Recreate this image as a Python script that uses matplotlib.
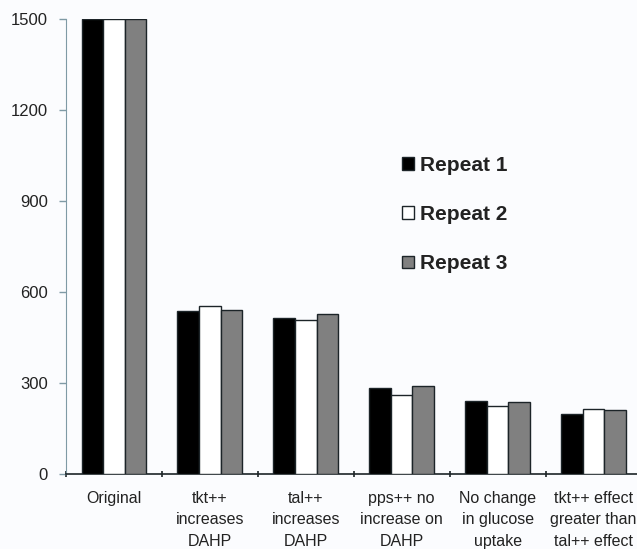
import numpy as np
import matplotlib.pyplot as plt

plt.rcParams['font.family'] = ['Liberation Sans', 'DejaVu Sans']

categories = ['Original', 'tkt++\nincreases\nDAHP', 'tal++\nincreases\nDAHP',
              'pps++ no\nincrease on\nDAHP', 'No change\nin glucose\nuptake',
              'tkt++ effect\ngreater than\ntal++ effect']
repeat1 = [1500, 537, 513, 283, 240, 198]
repeat2 = [1500, 554, 508, 261, 225, 215]
repeat3 = [1500, 541, 527, 290, 238, 210]
series_names = ['Repeat 1', 'Repeat 2', 'Repeat 3']
yticks = [0, 300, 600, 900, 1200, 1500]

fig = plt.figure(figsize=(6.37, 5.49), dpi=100, facecolor='#fbfcfe')
ax = fig.add_axes([0.1036, 0.1366, 0.9034, 0.8288])
ax.set_facecolor('#fbfcfe')

x = np.arange(len(categories))
w = 0.225
cols = ['#000000', '#ffffff', '#808080']
bars = []
for k, (vals, c) in enumerate(zip([repeat1, repeat2, repeat3], cols)):
    b = ax.bar(x + (k - 1) * w, vals, w, color=c, edgecolor='#1c2428', linewidth=1.0,
               label=series_names[k], zorder=3)
    bars.append(b)

ax.set_xlim(-0.5, len(categories) - 0.5)
ax.set_ylim(0, 1500)
ax.set_yticks(yticks)
ax.set_yticklabels([str(t) for t in yticks], fontsize=12, color='#222222')
ax.set_xticks(np.arange(len(categories) + 1) - 0.5)
ax.set_xticklabels([])
ax.set_xticks(x, minor=True)
ax.set_xticklabels(categories, minor=True, fontsize=11.5, color='#222222', linespacing=1.55)
ax.tick_params(axis='x', which='minor', length=0, pad=12)
ax.tick_params(axis='x', which='major', length=5, width=1.2, color='#1c2428', direction='inout')
ax.tick_params(axis='y', length=5, width=1, color='#7f9aa5', pad=8)

for s in ['top', 'right']:
    ax.spines[s].set_visible(False)
ax.spines['left'].set_color('#7f9aa5')
ax.spines['bottom'].set_color('#1c2428')
ax.spines['bottom'].set_linewidth(1.2)

leg = fig.legend(handles=bars, labels=series_names, loc='upper left',
                 bbox_to_anchor=(0.615, 0.735), frameon=False,
                 prop={'size': 15, 'weight': 'bold'}, handlelength=0.55, handleheight=0.55,
                 handletextpad=0.3, labelspacing=1.45, borderpad=0)
for t in leg.get_texts():
    t.set_color('#222222')

fig.savefig('out.png', dpi=100, facecolor=fig.get_facecolor())
